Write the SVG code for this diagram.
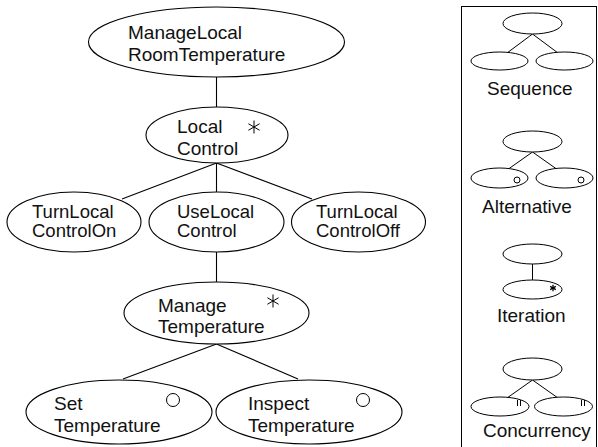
<svg xmlns="http://www.w3.org/2000/svg" width="598" height="447" viewBox="0 0 598 447">
<style>
  .n { fill: #fff; stroke: #000; stroke-width: 1.1; }
  .c line { stroke: #000; stroke-width: 1.1; }
  .t { font-family: "Liberation Sans", Arial, sans-serif; font-size: 19px; fill: #111; }
  .ts { font-size: 18.5px; }
  .mk { fill: #fff; stroke: #000; stroke-width: 1; }
  .lg { fill: #fff; stroke: #000; stroke-width: 1; }
  .lgl { stroke: #000; stroke-width: 1; }
</style>
<defs>
  <g id="star">
    <line x1="0" y1="-6.5" x2="0" y2="6.5"/>
    <line x1="-5.6" y1="-3.25" x2="5.6" y2="3.25"/>
    <line x1="-5.6" y1="3.25" x2="5.6" y2="-3.25"/>
  </g>
</defs>
<rect width="598" height="447" fill="#fff"/>

<g id="connectors" class="c">
  <line x1="216.5" y1="77" x2="216.5" y2="107"/>
  <line x1="216.5" y1="163" x2="122" y2="199"/>
  <line x1="216.5" y1="163" x2="216.5" y2="192"/>
  <line x1="216.5" y1="163" x2="312" y2="199"/>
  <line x1="216.5" y1="252" x2="216.5" y2="282"/>
  <line x1="216.5" y1="344" x2="123" y2="379"/>
  <line x1="216.5" y1="344" x2="298" y2="379"/>
</g>

<g id="ManageLocalRoomTemperature">
  <ellipse class="n" cx="216.5" cy="42" rx="128" ry="35"/>
  <text class="t" x="128" y="39">ManageLocal</text>
  <text class="t" x="128" y="61">RoomTemperature</text>
</g>

<g id="LocalControl">
  <ellipse class="n" cx="217" cy="135" rx="71" ry="28"/>
  <text class="t" x="177" y="133">Local</text>
  <text class="t" x="177" y="155">Control</text>
  <use href="#star" x="254" y="127" stroke="#000" stroke-width="1"/>
</g>

<g id="TurnLocalControlOn">
  <ellipse class="n" cx="74" cy="222" rx="67" ry="30"/>
  <text class="t ts" x="32" y="218">TurnLocal</text>
  <text class="t ts" x="32" y="237">ControlOn</text>
</g>

<g id="UseLocalControl">
  <ellipse class="n" cx="216.5" cy="222" rx="67.5" ry="30"/>
  <text class="t ts" x="177" y="218">UseLocal</text>
  <text class="t ts" x="177" y="237">Control</text>
</g>

<g id="TurnLocalControlOff">
  <ellipse class="n" cx="358.5" cy="222" rx="67" ry="30"/>
  <text class="t ts" x="316" y="218">TurnLocal</text>
  <text class="t ts" x="316" y="237">ControlOff</text>
</g>

<g id="ManageTemperature">
  <ellipse class="n" cx="216.5" cy="313" rx="92.5" ry="31"/>
  <text class="t" x="158" y="312">Manage</text>
  <text class="t" x="158" y="333">Temperature</text>
  <use href="#star" x="273" y="301" stroke="#000" stroke-width="1"/>
</g>

<g id="SetTemperature">
  <ellipse class="n" cx="119" cy="412" rx="93" ry="32"/>
  <text class="t" x="54" y="410">Set</text>
  <text class="t" x="54" y="432">Temperature</text>
  <circle class="mk" cx="173" cy="400" r="6.5"/>
</g>

<g id="InspectTemperature">
  <ellipse class="n" cx="309" cy="412" rx="93" ry="32"/>
  <text class="t" x="248" y="410">Inspect</text>
  <text class="t" x="248" y="432">Temperature</text>
  <circle class="mk" cx="363" cy="400" r="6.5"/>
</g>

<g id="legend">
  <rect x="461.5" y="6.5" width="135" height="446" fill="none" stroke="#000" stroke-width="1"/>

  <g id="legend-sequence">
    <line class="lgl" x1="532.5" y1="34" x2="507" y2="53"/>
    <line class="lgl" x1="532.5" y1="34" x2="558" y2="53"/>
    <ellipse class="lg" cx="532.5" cy="23.5" rx="29.5" ry="10.5"/>
    <ellipse class="lg" cx="499.5" cy="61" rx="28.5" ry="9"/>
    <ellipse class="lg" cx="564.5" cy="61" rx="28.5" ry="9"/>
    <text class="t" x="487" y="95" font-size="17">Sequence</text>
  </g>

  <g id="legend-alternative">
    <line class="lgl" x1="532.5" y1="152" x2="507" y2="170"/>
    <line class="lgl" x1="532.5" y1="152" x2="558" y2="170"/>
    <ellipse class="lg" cx="532.5" cy="141.5" rx="29.5" ry="10.5"/>
    <ellipse class="lg" cx="499.5" cy="178" rx="28.5" ry="10"/>
    <ellipse class="lg" cx="564.5" cy="178" rx="28.5" ry="10"/>
    <circle class="mk" cx="517" cy="180" r="3"/>
    <circle class="mk" cx="581" cy="180" r="3"/>
    <text class="t" x="482" y="213" font-size="17">Alternative</text>
  </g>

  <g id="legend-iteration">
    <line class="lgl" x1="532.5" y1="264" x2="532.5" y2="280"/>
    <ellipse class="lg" cx="532.5" cy="254" rx="29.5" ry="10"/>
    <ellipse class="lg" cx="532.5" cy="289.5" rx="29.5" ry="9.5"/>
    <use href="#star" transform="translate(553,288) scale(0.5)" stroke="#000" stroke-width="2.6"/>
    <text class="t" x="497" y="322" font-size="17">Iteration</text>
  </g>

  <g id="legend-concurrency">
    <line class="lgl" x1="532.5" y1="380" x2="507" y2="398"/>
    <line class="lgl" x1="532.5" y1="380" x2="558" y2="398"/>
    <ellipse class="lg" cx="532.5" cy="369" rx="29.5" ry="11"/>
    <ellipse class="lg" cx="500" cy="406.5" rx="29" ry="9.5"/>
    <ellipse class="lg" cx="563.5" cy="406.5" rx="29" ry="9.5"/>
    <line class="lgl" x1="517.5" y1="400" x2="517.5" y2="406"/>
    <line class="lgl" x1="520.5" y1="400" x2="520.5" y2="406"/>
    <line class="lgl" x1="581.5" y1="400" x2="581.5" y2="406"/>
    <line class="lgl" x1="584.5" y1="400" x2="584.5" y2="406"/>
    <text class="t" x="483" y="437" font-size="17">Concurrency</text>
  </g>
</g>
</svg>
